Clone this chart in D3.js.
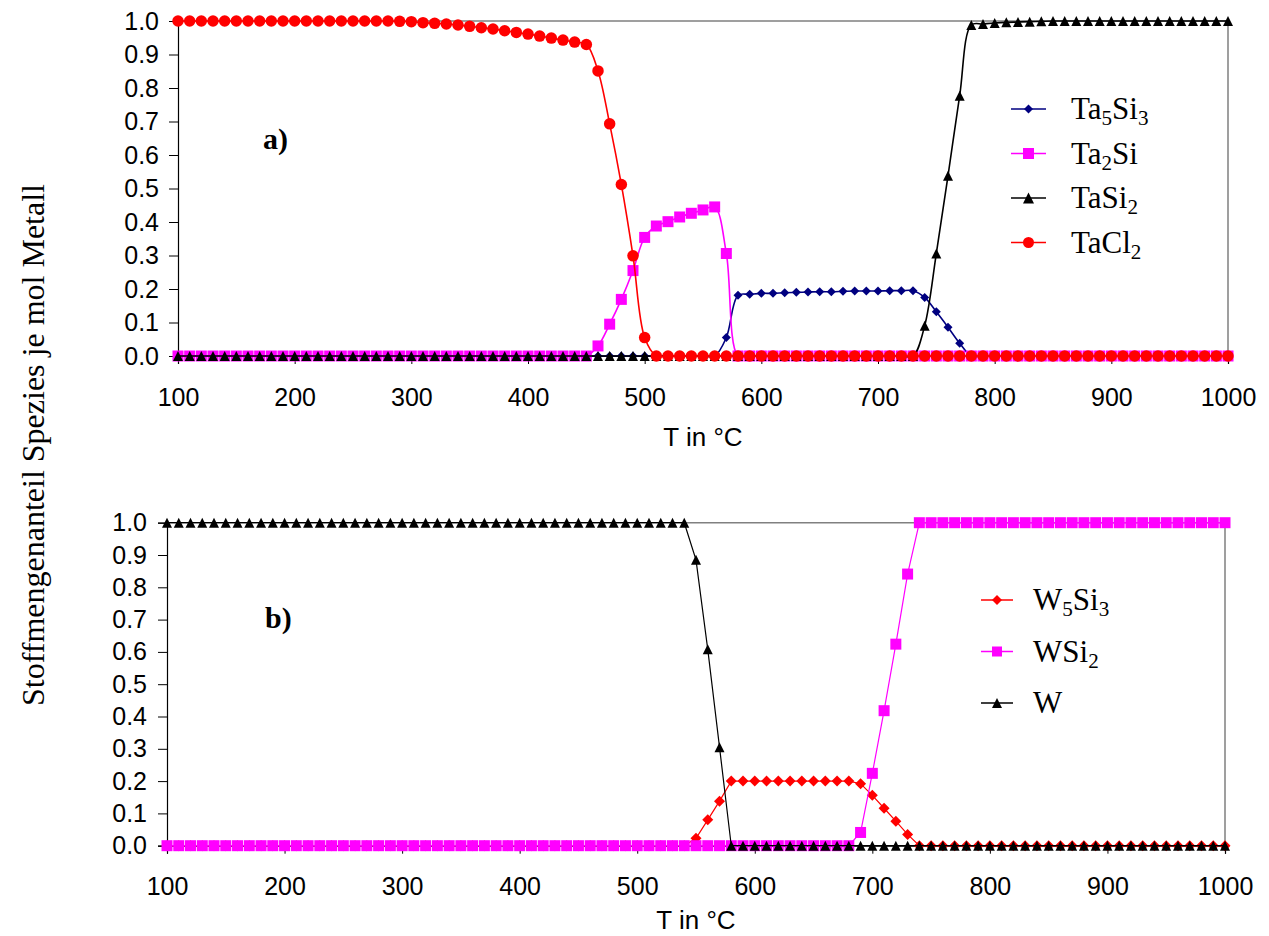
<!DOCTYPE html>
<html>
<head>
<meta charset="utf-8">
<script src="https://cdn.jsdelivr.net/npm/d3@7"></script>
<style>
  body { margin: 0; background: #fff; }
  svg { display: block; }
</style>
</head>
<body>
<svg id="chart" width="1269" height="936"></svg>
<script>
// Temperatures (°C), 10 K steps
const temps = [
  100, 110, 120, 130, 140, 150, 160, 170, 180, 190,
  200, 210, 220, 230, 240, 250, 260, 270, 280, 290,
  300, 310, 320, 330, 340, 350, 360, 370, 380, 390,
  400, 410, 420, 430, 440, 450, 460, 470, 480, 490,
  500, 510, 520, 530, 540, 550, 560, 570, 580, 590,
  600, 610, 620, 630, 640, 650, 660, 670, 680, 690,
  700, 710, 720, 730, 740, 750, 760, 770, 780, 790,
  800, 810, 820, 830, 840, 850, 860, 870, 880, 890,
  900, 910, 920, 930, 940, 950, 960, 970, 980, 990,
  1000
];

// a) Ta system
const ta5si3 = [
  0, 0, 0, 0, 0, 0, 0, 0, 0, 0,
  0, 0, 0, 0, 0, 0, 0, 0, 0, 0,
  0, 0, 0, 0, 0, 0, 0, 0, 0, 0,
  0, 0, 0, 0, 0, 0, 0, 0, 0, 0,
  0, 0, 0, 0, 0, 0, 0, 0.055, 0.181, 0.184,
  0.187, 0.187, 0.189, 0.190, 0.191, 0.192, 0.192, 0.193, 0.194, 0.194,
  0.194, 0.195, 0.195, 0.195, 0.175, 0.132, 0.086, 0.038, 0, 0,
  0, 0, 0, 0, 0, 0, 0, 0, 0, 0,
  0, 0, 0, 0, 0, 0, 0, 0, 0, 0,
  0
];
const ta2si = [
  0, 0, 0, 0, 0, 0, 0, 0, 0, 0,
  0, 0, 0, 0, 0, 0, 0, 0, 0, 0,
  0, 0, 0, 0, 0, 0, 0, 0, 0, 0,
  0, 0, 0, 0, 0, 0, 0.030, 0.095, 0.169, 0.255,
  0.354, 0.388, 0.401, 0.415, 0.426, 0.436, 0.445, 0.306, 0, 0,
  0, 0, 0, 0, 0, 0, 0, 0, 0, 0,
  0, 0, 0, 0, 0, 0, 0, 0, 0, 0,
  0, 0, 0, 0, 0, 0, 0, 0, 0, 0,
  0, 0, 0, 0, 0, 0, 0, 0, 0, 0,
  0
];
const tasi2 = [
  0, 0, 0, 0, 0, 0, 0, 0, 0, 0,
  0, 0, 0, 0, 0, 0, 0, 0, 0, 0,
  0, 0, 0, 0, 0, 0, 0, 0, 0, 0,
  0, 0, 0, 0, 0, 0, 0, 0, 0, 0,
  0, 0, 0, 0, 0, 0, 0, 0, 0, 0,
  0, 0, 0, 0, 0, 0, 0, 0, 0, 0,
  0, 0, 0, 0, 0.090, 0.306, 0.538, 0.777, 0.988, 0.991,
  0.994, 0.996, 0.997, 0.998, 0.999, 1, 1, 1, 1, 1,
  1, 1, 1, 1, 1, 1, 1, 1, 1, 1,
  1
];
const tacl2 = [
  1, 1, 1, 1, 1, 1, 1, 1, 1, 1,
  1, 1, 1, 1, 1, 1, 1, 1, 1, 0.999,
  0.998, 0.995, 0.993, 0.991, 0.988, 0.984, 0.980, 0.976, 0.971, 0.966,
  0.961, 0.955, 0.949, 0.943, 0.937, 0.930, 0.851, 0.693, 0.512, 0.299,
  0.055, 0, 0, 0, 0, 0, 0, 0, 0, 0,
  0, 0, 0, 0, 0, 0, 0, 0, 0, 0,
  0, 0, 0, 0, 0, 0, 0, 0, 0, 0,
  0, 0, 0, 0, 0, 0, 0, 0, 0, 0,
  0, 0, 0, 0, 0, 0, 0, 0, 0, 0,
  0
];

// b) W system
const w5si3 = [
  0, 0, 0, 0, 0, 0, 0, 0, 0, 0,
  0, 0, 0, 0, 0, 0, 0, 0, 0, 0,
  0, 0, 0, 0, 0, 0, 0, 0, 0, 0,
  0, 0, 0, 0, 0, 0, 0, 0, 0, 0,
  0, 0, 0, 0, 0, 0.023, 0.080, 0.138, 0.200, 0.200,
  0.200, 0.200, 0.200, 0.200, 0.200, 0.200, 0.200, 0.200, 0.200, 0.192,
  0.156, 0.116, 0.076, 0.035, 0, 0, 0, 0, 0, 0,
  0, 0, 0, 0, 0, 0, 0, 0, 0, 0,
  0, 0, 0, 0, 0, 0, 0, 0, 0, 0,
  0
];
const wsi2 = [
  0, 0, 0, 0, 0, 0, 0, 0, 0, 0,
  0, 0, 0, 0, 0, 0, 0, 0, 0, 0,
  0, 0, 0, 0, 0, 0, 0, 0, 0, 0,
  0, 0, 0, 0, 0, 0, 0, 0, 0, 0,
  0, 0, 0, 0, 0, 0, 0, 0, 0, 0,
  0, 0, 0, 0, 0, 0, 0, 0, 0, 0.041,
  0.224, 0.418, 0.624, 0.841, 1, 1, 1, 1, 1, 1,
  1, 1, 1, 1, 1, 1, 1, 1, 1, 1,
  1, 1, 1, 1, 1, 1, 1, 1, 1, 1,
  1
];
const wMetal = [
  1, 1, 1, 1, 1, 1, 1, 1, 1, 1,
  1, 1, 1, 1, 1, 1, 1, 1, 1, 1,
  1, 1, 1, 1, 1, 1, 1, 1, 1, 1,
  1, 1, 1, 1, 1, 1, 1, 1, 1, 1,
  1, 1, 1, 1, 1, 0.885, 0.608, 0.305, 0, 0,
  0, 0, 0, 0, 0, 0, 0, 0, 0, 0,
  0, 0, 0, 0, 0, 0, 0, 0, 0, 0,
  0, 0, 0, 0, 0, 0, 0, 0, 0, 0,
  0, 0, 0, 0, 0, 0, 0, 0, 0, 0,
  0
];

const xTicks = [100, 200, 300, 400, 500, 600, 700, 800, 900, 1000];
const yTicks = [0, 0.1, 0.2, 0.3, 0.4, 0.5, 0.6, 0.7, 0.8, 0.9, 1.0];

const SANS = 'Liberation Sans, Arial, sans-serif';
const SERIF = 'Liberation Serif, Times New Roman, serif';

const svg = d3.select('#chart');

// marker outline centred on (0,0), s = full width
function markerPath(shape, s) {
  const h = s / 2;
  if (shape === 'diamond') return `M0,${-h}L${h},0L0,${h}L${-h},0Z`;
  if (shape === 'square') return `M${-h},${-h}h${s}v${s}h${-s}Z`;
  if (shape === 'triangle') return `M0,${-h}L${h},${h}L${-h},${h}Z`;
  return `M${h},0A${h},${h} 0 1 1 ${-h},0A${h},${h} 0 1 1 ${h},0Z`;
}

// legend label, digits flagged sub are lowered and shrunk
function addLabel(sel, parts) {
  let shift = 0;
  parts.forEach(p => {
    const ts = sel.append('tspan').text(p.t);
    if (p.sub) {
      ts.attr('font-size', '0.68em').attr('dy', 6 - shift);
      shift = 6;
    } else {
      ts.attr('dy', -shift);
      shift = 0;
    }
  });
}

function drawPanel(cfg) {
  const { box, series } = cfg;

  const x = d3.scaleLinear().domain([100, 1000]).range([box.left, box.right]);
  const y = d3.scaleLinear().domain([0, 1]).range([box.bottom, box.top]);

  const g = svg.append('g');

  // plot frame (grey top and right edges)
  g.append('path')
    .attr('d', `M${box.left},${box.top}H${box.right}V${box.bottom}`)
    .attr('fill', 'none')
    .attr('stroke', '#808080')
    .attr('stroke-width', 1.5);

  // Axes
  const yAxis = g.append('g')
    .attr('transform', `translate(${box.left},0)`)
    .call(d3.axisLeft(y).tickValues(yTicks).tickSize(9).tickPadding(cfg.yPad).tickFormat(d3.format('.1f')));

  const xAxis = g.append('g')
    .attr('transform', `translate(0,${box.bottom})`)
    .call(d3.axisBottom(x).tickValues(xTicks).tickSize(8).tickPadding(24).tickFormat(d3.format('d')));

  [yAxis, xAxis].forEach(ax => {
    ax.selectAll('text')
      .attr('fill', '#000')
      .attr('font-size', '25px')
      .attr('font-family', SANS);
    ax.selectAll('line').attr('stroke', '#000').attr('stroke-width', 1);
    ax.select('.domain').attr('stroke', '#000').attr('stroke-width', 1.2);
  });

  // x axis title
  g.append('text')
    .attr('x', (box.left + box.right) / 2)
    .attr('y', cfg.xTitleY)
    .attr('text-anchor', 'middle')
    .attr('fill', '#000')
    .attr('font-size', '26px')
    .attr('font-family', SANS)
    .text('T in °C');

  // Series
  const line = d3.line()
    .x((d, i) => x(temps[i]))
    .y(d => y(d))
    .curve(cfg.curve);

  series.forEach(s => {
    const sg = g.append('g');
    sg.append('path')
      .datum(s.values)
      .attr('d', line)
      .attr('fill', 'none')
      .attr('stroke', s.color)
      .attr('stroke-width', cfg.lineWidth);

    sg.selectAll('path.mk')
      .data(s.values)
      .join('path')
      .attr('class', 'mk')
      .attr('transform', (d, i) => `translate(${x(temps[i])},${y(d)})`)
      .attr('d', markerPath(s.shape, s.size))
      .attr('fill', s.color);
  });

  // panel label
  g.append('text')
    .attr('x', cfg.tag.x)
    .attr('y', cfg.tag.y)
    .attr('fill', '#000')
    .attr('font-size', '30px')
    .attr('font-weight', 'bold')
    .attr('font-family', SERIF)
    .text(cfg.tag.text);

  // Legend
  const lg = cfg.legend;
  series.forEach((s, i) => {
    const cy = lg.y0 + i * lg.step;
    g.append('line')
      .attr('x1', lg.x1).attr('x2', lg.x2)
      .attr('y1', cy).attr('y2', cy)
      .attr('stroke', s.color)
      .attr('stroke-width', 1.5);
    g.append('path')
      .attr('transform', `translate(${(lg.x1 + lg.x2) / 2},${cy})`)
      .attr('d', markerPath(s.shape, s.legendSize))
      .attr('fill', s.color);
    const t = g.append('text')
      .attr('x', lg.tx)
      .attr('y', cy + 10)
      .attr('fill', '#000')
      .attr('font-size', '31px')
      .attr('font-family', SERIF);
    addLabel(t, s.label);
  });
}

drawPanel({
  box: { left: 178, right: 1228, top: 21, bottom: 356 },
  yPad: 10,
  xTitleY: 446,
  curve: d3.curveCatmullRom.alpha(0.5),
  lineWidth: 1.6,
  tag: { text: 'a)', x: 263, y: 149 },
  legend: { x1: 1011, x2: 1046, tx: 1071, y0: 109, step: 44.5 },
  series: [
    { values: ta5si3, color: '#000080', shape: 'diamond', size: 9, legendSize: 9,
      label: [{ t: 'Ta' }, { t: '5', sub: true }, { t: 'Si' }, { t: '3', sub: true }] },
    { values: ta2si, color: '#ff00ff', shape: 'square', size: 11, legendSize: 11,
      label: [{ t: 'Ta' }, { t: '2', sub: true }, { t: 'Si' }] },
    { values: tasi2, color: '#000000', shape: 'triangle', size: 10, legendSize: 11,
      label: [{ t: 'TaSi' }, { t: '2', sub: true }] },
    { values: tacl2, color: '#ff0000', shape: 'circle', size: 11.5, legendSize: 11,
      label: [{ t: 'TaCl' }, { t: '2', sub: true }] }
  ]
});

drawPanel({
  box: { left: 167, right: 1225, top: 522.7, bottom: 845.7 },
  yPad: 11,
  xTitleY: 929,
  curve: d3.curveLinear,
  lineWidth: 1.2,
  tag: { text: 'b)', x: 265, y: 628 },
  legend: { x1: 981, x2: 1013, tx: 1033, y0: 600, step: 51.5 },
  series: [
    { values: w5si3, color: '#ff0000', shape: 'diamond', size: 11, legendSize: 10,
      label: [{ t: 'W' }, { t: '5', sub: true }, { t: 'Si' }, { t: '3', sub: true }] },
    { values: wsi2, color: '#ff00ff', shape: 'square', size: 11, legendSize: 10,
      label: [{ t: 'WSi' }, { t: '2', sub: true }] },
    { values: wMetal, color: '#000000', shape: 'triangle', size: 10, legendSize: 10,
      label: [{ t: 'W' }] }
  ]
});

// shared y axis title
svg.append('text')
  .attr('transform', 'translate(44,445) rotate(-90)')
  .attr('text-anchor', 'middle')
  .attr('fill', '#000')
  .attr('font-size', '32px')
  .attr('font-family', SERIF)
  .text('Stoffmengenanteil Spezies je mol Metall');
</script>
</body>
</html>
